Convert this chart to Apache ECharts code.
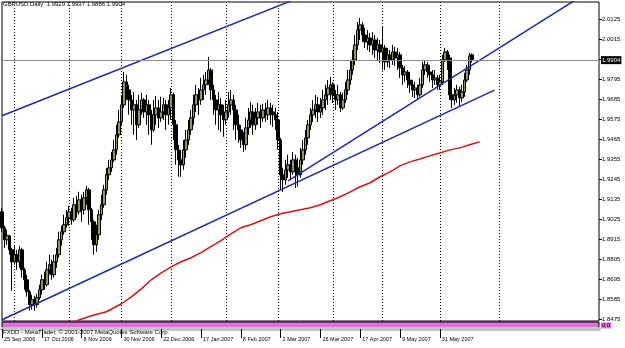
<!DOCTYPE html>
<html><head><meta charset="utf-8">
<script src="https://cdn.jsdelivr.net/npm/echarts@6.0.0/dist/echarts.min.js"></script>
<style>html,body{margin:0;padding:0;background:#fff;}#c{width:625px;height:348px;}</style>
</head><body><div id="c"></div>
<script>
// ---- data ----
const firstDate = '2006-09-25';
const holidays = ['2006-12-25', '2007-01-01'];
const totalSlots = 241;
const header = 'GBPUSD,Daily  1.9929 1.9937 1.9886 1.9904';
const footer = 'FXDD - MetaTrader, \u00a9 2001-2007 MetaQuotes Software Corp.';
const opens = [
1.9065,1.8977,1.8911,1.8933,1.8856,1.8790,1.8829,1.8790,1.8856,1.8746,
1.8691,1.8625,1.8554,1.8581,1.8554,1.8592,1.8636,1.8691,1.8664,1.8746,
1.8774,1.8719,1.8790,1.8829,1.8911,1.8955,1.8994,1.9032,1.9065,1.9021,
1.9104,1.9065,1.9131,1.9076,1.9142,1.9186,1.9076,1.9010,1.8884,1.8939,
1.9049,1.9104,1.9186,1.9269,1.9307,1.9351,1.9406,1.9489,1.9560,1.9654,
1.9780,1.9736,1.9681,1.9626,1.9654,1.9544,1.9626,1.9681,1.9615,1.9654,
1.9599,1.9516,1.9599,1.9637,1.9582,1.9615,1.9654,1.9599,1.9637,1.9709,
1.9544,1.9406,1.9351,1.9324,1.9406,1.9461,1.9516,1.9582,1.9654,1.9709,
1.9681,1.9736,1.9764,1.9791,1.9846,1.9736,1.9681,1.9626,1.9654,1.9599,
1.9571,1.9615,1.9654,1.9681,1.9626,1.9544,1.9516,1.9461,1.9434,1.9527,
1.9571,1.9615,1.9544,1.9582,1.9615,1.9582,1.9626,1.9599,1.9637,1.9615,
1.9599,1.9571,1.9461,1.9269,1.9241,1.9296,1.9324,1.9285,1.9351,1.9307,
1.9269,1.9351,1.9406,1.9472,1.9544,1.9599,1.9626,1.9654,1.9615,1.9637,
1.9681,1.9709,1.9747,1.9764,1.9709,1.9681,1.9709,1.9637,1.9681,1.9736,
1.9791,1.9846,1.9901,1.9984,2.0066,2.0094,2.0038,2.0000,2.0022,1.9984,
2.0011,1.9956,1.9984,1.9945,1.9967,1.9890,1.9929,1.9901,1.9945,1.9912,
1.9929,1.9857,1.9819,1.9835,1.9791,1.9764,1.9736,1.9747,1.9709,1.9764,
1.9846,1.9874,1.9835,1.9819,1.9791,1.9802,1.9764,1.9780,1.9901,1.9945,
1.9912,1.9709,1.9681,1.9709,1.9736,1.9692,1.9725,1.9791,1.9846,1.9929];
const closes = [
1.8977,1.8911,1.8933,1.8856,1.8790,1.8829,1.8790,1.8856,1.8746,1.8691,
1.8625,1.8554,1.8581,1.8554,1.8592,1.8636,1.8691,1.8664,1.8746,1.8774,
1.8719,1.8790,1.8829,1.8911,1.8955,1.8994,1.9032,1.9065,1.9021,1.9104,
1.9065,1.9131,1.9076,1.9142,1.9186,1.9076,1.9010,1.8884,1.8939,1.9049,
1.9104,1.9186,1.9269,1.9307,1.9351,1.9406,1.9489,1.9560,1.9654,1.9780,
1.9736,1.9681,1.9626,1.9654,1.9544,1.9626,1.9681,1.9615,1.9654,1.9599,
1.9516,1.9599,1.9637,1.9582,1.9615,1.9654,1.9599,1.9637,1.9709,1.9544,
1.9406,1.9351,1.9324,1.9406,1.9461,1.9516,1.9582,1.9654,1.9709,1.9681,
1.9736,1.9764,1.9791,1.9846,1.9736,1.9681,1.9626,1.9654,1.9599,1.9571,
1.9615,1.9654,1.9681,1.9626,1.9544,1.9516,1.9461,1.9434,1.9527,1.9571,
1.9615,1.9544,1.9582,1.9615,1.9582,1.9626,1.9599,1.9637,1.9615,1.9599,
1.9571,1.9461,1.9269,1.9241,1.9296,1.9324,1.9285,1.9351,1.9307,1.9269,
1.9351,1.9406,1.9472,1.9544,1.9599,1.9626,1.9654,1.9615,1.9637,1.9681,
1.9709,1.9747,1.9764,1.9709,1.9681,1.9709,1.9637,1.9681,1.9736,1.9791,
1.9846,1.9901,1.9984,2.0066,2.0094,2.0038,2.0000,2.0022,1.9984,2.0011,
1.9956,1.9984,1.9945,1.9967,1.9890,1.9929,1.9901,1.9945,1.9912,1.9929,
1.9857,1.9819,1.9835,1.9791,1.9764,1.9736,1.9747,1.9709,1.9764,1.9846,
1.9874,1.9835,1.9819,1.9791,1.9802,1.9764,1.9780,1.9901,1.9945,1.9912,
1.9709,1.9681,1.9709,1.9736,1.9692,1.9725,1.9791,1.9846,1.9923,1.9904];
const lows = [
1.8955,1.8867,1.8884,1.8829,1.8631,1.8774,1.8746,1.8757,1.8702,1.8636,
1.8598,1.8521,1.8526,1.8521,1.8537,1.8581,1.8609,1.8636,1.8653,1.8719,
1.8691,1.8702,1.8757,1.8812,1.8878,1.8939,1.8977,1.8988,1.8994,1.9010,
1.9032,1.9049,1.9010,1.9049,1.9104,1.8994,1.8911,1.8829,1.8845,1.8911,
1.9021,1.9087,1.9159,1.9241,1.9285,1.9340,1.9379,1.9472,1.9544,1.9637,
1.9681,1.9599,1.9544,1.9489,1.9461,1.9527,1.9599,1.9582,1.9544,1.9489,
1.9434,1.9505,1.9544,1.9527,1.9560,1.9571,1.9516,1.9544,1.9571,1.9461,
1.9324,1.9258,1.9258,1.9296,1.9362,1.9434,1.9489,1.9544,1.9615,1.9599,
1.9654,1.9681,1.9709,1.9764,1.9681,1.9599,1.9544,1.9516,1.9505,1.9478,
1.9544,1.9582,1.9599,1.9516,1.9461,1.9445,1.9417,1.9395,1.9406,1.9489,
1.9527,1.9489,1.9516,1.9544,1.9527,1.9560,1.9560,1.9571,1.9544,1.9533,
1.9516,1.9406,1.9186,1.9175,1.9214,1.9252,1.9241,1.9269,1.9197,1.9203,
1.9252,1.9324,1.9379,1.9434,1.9516,1.9560,1.9582,1.9560,1.9582,1.9599,
1.9626,1.9654,1.9681,1.9665,1.9626,1.9654,1.9615,1.9626,1.9665,1.9709,
1.9764,1.9819,1.9874,1.9956,2.0011,2.0000,1.9967,1.9956,1.9945,1.9929,
1.9912,1.9901,1.9885,1.9846,1.9846,1.9863,1.9857,1.9874,1.9868,1.9846,
1.9802,1.9764,1.9780,1.9747,1.9720,1.9698,1.9692,1.9681,1.9698,1.9747,
1.9819,1.9802,1.9780,1.9747,1.9764,1.9736,1.9736,1.9764,1.9890,1.9846,
1.9681,1.9637,1.9654,1.9665,1.9648,1.9670,1.9698,1.9780,1.9819,1.9886];
const highs = [
1.9087,1.8988,1.8966,1.8939,1.8867,1.8884,1.8856,1.8878,1.8867,1.8757,
1.8719,1.8636,1.8609,1.8603,1.8614,1.8664,1.8719,1.8735,1.8790,1.8829,
1.8801,1.8829,1.8867,1.8955,1.8988,1.9049,1.9076,1.9098,1.9087,1.9142,
1.9153,1.9175,1.9159,1.9175,1.9208,1.9197,1.9087,1.9021,1.8994,1.9076,
1.9159,1.9214,1.9307,1.9351,1.9395,1.9461,1.9544,1.9626,1.9709,1.9835,
1.9819,1.9764,1.9709,1.9725,1.9681,1.9709,1.9720,1.9692,1.9709,1.9681,
1.9626,1.9681,1.9703,1.9681,1.9698,1.9692,1.9681,1.9681,1.9747,1.9720,
1.9571,1.9434,1.9406,1.9461,1.9516,1.9571,1.9626,1.9709,1.9764,1.9747,
1.9802,1.9819,1.9835,1.9918,1.9857,1.9764,1.9709,1.9725,1.9692,1.9654,
1.9681,1.9725,1.9736,1.9709,1.9654,1.9599,1.9544,1.9505,1.9582,1.9637,
1.9670,1.9654,1.9637,1.9665,1.9654,1.9659,1.9665,1.9681,1.9665,1.9654,
1.9637,1.9615,1.9472,1.9307,1.9351,1.9379,1.9351,1.9395,1.9379,1.9362,
1.9417,1.9461,1.9516,1.9571,1.9637,1.9681,1.9709,1.9698,1.9692,1.9736,
1.9764,1.9791,1.9808,1.9780,1.9736,1.9764,1.9725,1.9720,1.9780,1.9846,
1.9901,1.9956,2.0038,2.0110,2.0132,2.0110,2.0077,2.0066,2.0050,2.0055,
2.0038,2.0022,2.0011,2.0083,1.9984,1.9967,1.9956,1.9984,1.9973,1.9967,
1.9945,1.9874,1.9868,1.9846,1.9835,1.9791,1.9780,1.9764,1.9802,1.9890,
1.9901,1.9890,1.9874,1.9846,1.9846,1.9819,1.9819,1.9929,1.9967,1.9956,
1.9929,1.9747,1.9747,1.9764,1.9753,1.9764,1.9830,1.9874,1.9940,1.9937];
const maIdx = [30,36,42,48,52,56,60,64,68,72,76,80,84,88,92,96,100,104,108,112,116,120,124,128,132,136,140,144,148,152,156,160,164,168,172,176,180,184,188,192];
const maVals = [1.8465,1.8493,1.8515,1.8559,1.8597,1.8641,1.8691,1.8729,1.8762,1.8790,1.8812,1.8840,1.8873,1.8906,1.8944,1.8977,1.8994,1.9016,1.9038,1.9054,1.9065,1.9076,1.9087,1.9104,1.9126,1.9148,1.9175,1.9203,1.9225,1.9258,1.9285,1.9318,1.9340,1.9356,1.9373,1.9389,1.9406,1.9417,1.9434,1.9450];
const trendA = [[0, 1.9594], [116, 2.0225]];
const trendB = [[0, 1.8471], [198, 1.9735]];
const trendC = [[115, 1.9235], [232, 2.0244]];
const priceTicks = [1.8475,1.8585,1.8695,1.8805,1.8915,1.9025,1.9135,1.9245,1.9355,1.9465,1.9575,1.9685,1.9795,1.9905,2.0015,2.0125];
const gridIdx = [5, 27, 48, 68, 90, 111, 133, 153, 176, 200];
const lastPrice = 1.9904;
const priceMin = 1.8464, priceMax = 2.0220;

// ---- build ----
const MON = ['Jan','Feb','Mar','Apr','May','Jun','Jul','Aug','Sep','Oct','Nov','Dec'];
const dates = [];
(function () {
  let d = new Date(firstDate + 'T00:00:00Z');
  while (dates.length < totalSlots) {
    const wd = d.getUTCDay();
    const iso = d.toISOString().slice(0, 10);
    if (wd !== 0 && wd !== 6 && holidays.indexOf(iso) < 0) {
      dates.push(d.getUTCDate() + ' ' + MON[d.getUTCMonth()] + ' ' + d.getUTCFullYear());
    }
    d = new Date(d.getTime() + 86400000);
  }
})();
const lastBar = closes.length - 1;
const ohlc = opens.map((o, i) => [o, closes[i], lows[i], highs[i]]);
const maData = maIdx.map((ix, k) => [ix, maVals[k]]);
const FONT = 'Liberation Sans';

const chart = echarts.init(document.getElementById('c'), null, {renderer: 'canvas'});
chart.setOption({
  animation: false,
  backgroundColor: '#fff',
  title: [
    {text: header, left: 3, top: 1, padding: 0,
     textStyle: {fontFamily: FONT, fontSize: 6, fontWeight: 'normal', color: '#000'}},
    {text: footer, left: 3, top: 329, padding: 0,
     textStyle: {fontFamily: FONT, fontSize: 6, fontWeight: 'normal', color: '#000'}}
  ],
  grid: [
    {left: 2, top: 2, width: 597, height: 319, show: true, borderColor: '#000', borderWidth: 1,
     backgroundColor: '#fff', containLabel: false, outerBoundsMode: 'none'},
    {left: 2, top: 322, width: 597, height: 7, show: true, borderColor: '#000', borderWidth: 1,
     backgroundColor: '#e36ee3', containLabel: false, outerBoundsMode: 'none'}
  ],
  xAxis: [
    {type: 'category', gridIndex: 0, data: dates, boundaryGap: false,
     axisLine: {show: false}, axisTick: {show: false}, axisLabel: {show: false},
     splitLine: {show: true, interval: (i) => gridIdx.indexOf(i) >= 0,
                 lineStyle: {color: '#000', type: [1, 2], width: 1}}},
    {type: 'category', gridIndex: 1, data: dates, boundaryGap: false, position: 'bottom', offset: 4,
     axisLine: {show: true, lineStyle: {color: '#c4c4c4', width: 4}},
     axisTick: {show: true, length: 9, interval: (i) => i % 16 === 0 && i <= lastBar,
                lineStyle: {color: '#000', width: 1}},
     axisLabel: {show: true, interval: (i) => i % 16 === 0 && i <= lastBar, align: 'left', margin: 3,
                 fontFamily: FONT, fontSize: 5.5, color: '#000', padding: [0, 0, 0, 2]},
     splitLine: {show: false}}
  ],
  yAxis: [
    {type: 'value', gridIndex: 0, position: 'right', min: priceMin, max: priceMax, scale: true,
     axisLine: {show: false}, splitLine: {show: false},
     axisTick: {show: true, length: 3, customValues: priceTicks, lineStyle: {color: '#000'}},
     axisLabel: {show: true, customValues: priceTicks, margin: 3, fontFamily: FONT, fontSize: 6, color: '#000',
                 formatter: (v) => Math.abs(v - 1.9905) < 1e-6 ? '' : v.toFixed(4)}},
    {type: 'value', gridIndex: 1, position: 'right', min: 0, max: 1,
     axisLine: {show: false}, splitLine: {show: false}, axisTick: {show: false},
     axisLabel: {show: true, customValues: [0.5], margin: 2, fontFamily: FONT, fontSize: 6, color: '#000',
                 backgroundColor: '#e36ee3', padding: [0, 1], formatter: () => '0.0'}}
  ],
  series: [
    {type: 'candlestick', xAxisIndex: 0, yAxisIndex: 0, data: ohlc, barWidth: 3,
     itemStyle: {color: '#8a9a58', color0: '#000', borderColor: '#000', borderColor0: '#000', borderWidth: 1},
     markLine: {silent: true, symbol: 'none', animation: false,
       lineStyle: {color: '#8c8c8c', type: 'solid', width: 1},
       label: {show: true, position: 'end', distance: 2, formatter: () => lastPrice.toFixed(4),
               color: '#fff', backgroundColor: '#000', padding: [1, 1], fontFamily: FONT, fontSize: 6},
       data: [{yAxis: lastPrice}]}},
    {type: 'line', xAxisIndex: 0, yAxisIndex: 0, data: maData, symbol: 'none', connectNulls: true,
     lineStyle: {color: '#c81818', width: 1.5}, z: 3},
    {type: 'line', xAxisIndex: 0, yAxisIndex: 0, data: trendA, symbol: 'none',
     lineStyle: {color: '#1e2a9e', width: 1.5}, z: 4},
    {type: 'line', xAxisIndex: 0, yAxisIndex: 0, data: trendB, symbol: 'none',
     lineStyle: {color: '#1e2a9e', width: 1.5}, z: 4},
    {type: 'line', xAxisIndex: 0, yAxisIndex: 0, data: trendC, symbol: 'none',
     lineStyle: {color: '#1e2a9e', width: 1.5}, z: 4}
  ]
});
</script></body></html>
